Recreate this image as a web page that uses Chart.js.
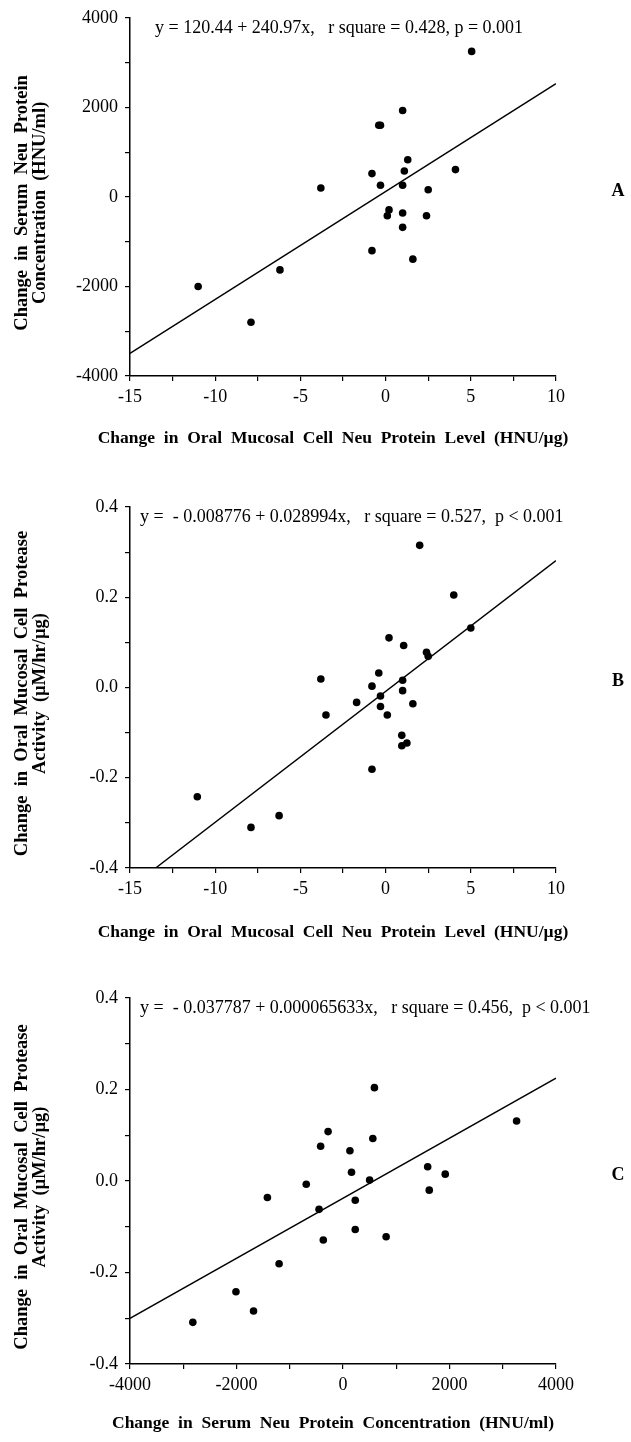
<!DOCTYPE html>
<html>
<head>
<meta charset="utf-8">
<script src="https://cdn.jsdelivr.net/npm/chart.js@4.4.1/dist/chart.umd.min.js"></script>
<style>
    body { margin: 0; background: #fff; width: 631px; height: 1442px; position: relative; overflow: hidden; }
    canvas { position: absolute; left: 0; }
</style>
</head>
<body>
<canvas id="chartA" width="631" height="470" style="top:0px;width:631px;height:470px"></canvas>
<canvas id="chartB" width="631" height="480" style="top:470px;width:631px;height:480px"></canvas>
<canvas id="chartC" width="631" height="492" style="top:950px;width:631px;height:492px"></canvas>
<script>
// Panel A: oral mucosal neu change vs serum neu change
const aX = [1.0, -0.4, -0.3, 1.3, 1.1, -0.8, 4.1, -0.3, 1.0, 2.5, -3.8, 0.2, 0.1, 1.0, 2.4, 1.0, -0.8, 1.6, -6.2, -11.0, -7.9, 5.05]
const aY = [1930, 1600, 1600, 830, 580, 520, 610, 260, 260, 160, 200, -290, -420, -360, -420, -680, -1200, -1390, -1630, -2000, -2800, 3250]
const aFit = [120.44, 240.97]

// Panel B: oral mucosal neu change vs protease activity change
const bX = [2.0, 4.0, 5.0, 0.2, 1.06, 2.4, 2.5, -3.8, -0.4, -0.8, 1.0, 1.0, -0.3, -1.7, 1.6, -0.3, -3.5, 0.1, 0.95, 0.95, 1.25, -0.8, -11.05, -6.25, -7.9]
const bY = [0.315, 0.205, 0.132, 0.110, 0.093, 0.078, 0.069, 0.019, 0.032, 0.003, 0.016, -0.007, -0.019, -0.033, -0.036, -0.042, -0.061, -0.061, -0.106, -0.129, -0.123, -0.181, -0.242, -0.284, -0.310]
const bFit = [-0.008776, 0.028994]

// Panel C: serum neu change vs protease activity change
const cX = [590, 3260, -280, -420, 130, 560, 160, 500, 1590, 1920, 1620, -690, -1420, 230, -450, 230, -370, 810, -1200, -2010, -1680, -2820]
const cY = [0.204, 0.131, 0.108, 0.076, 0.066, 0.093, 0.019, 0.002, 0.031, 0.015, -0.020, -0.007, -0.036, -0.042, -0.062, -0.106, -0.129, -0.122, -0.181, -0.242, -0.284, -0.309]
const cFit = [-0.037787, 0.000065633]

const equations = [
    "y = 120.44 + 240.97x,   r square = 0.428, p = 0.001",
    "y =  - 0.008776 + 0.028994x,   r square = 0.527,  p < 0.001",
    "y =  - 0.037787 + 0.000065633x,   r square = 0.456,  p < 0.001"
]
const panelLetters = ["A", "B", "C"]
const xTitles = [
    "Change  in  Oral  Mucosal  Cell  Neu  Protein  Level  (HNU/\u00b5g)",
    "Change  in  Oral  Mucosal  Cell  Neu  Protein  Level  (HNU/\u00b5g)",
    "Change  in  Serum  Neu  Protein  Concentration  (HNU/ml)"
]
const yTitles = [
    ["Change  in  Serum  Neu  Protein", "Concentration  (HNU/ml)"],
    ["Change  in  Oral  Mucosal  Cell  Protease", "Activity  (\u00b5M/hr/\u00b5g)"],
    ["Change  in  Oral  Mucosal  Cell  Protease", "Activity  (\u00b5M/hr/\u00b5g)"]
]
const xRanges = [[-15, 10, 2.5, 5], [-15, 10, 2.5, 5], [-4000, 4000, 1000, 2000]]
const yRanges = [[-4000, 4000, 1000, 2000], [-0.4, 0.4, 0.1, 0.2], [-0.4, 0.4, 0.1, 0.2]]

const FONT = '"Liberation Serif", "Times New Roman", serif'
Chart.defaults.color = '#000'
Chart.defaults.font.family = FONT

// equation text, axis titles and the panel letter
const annotate = {
    id: 'annotate',
    afterDraw(chart, args, opts) {
        const ctx = chart.ctx
        const area = chart.chartArea
        const midY = (area.top + area.bottom) / 2
        ctx.save()
        ctx.fillStyle = '#000'
        ctx.textBaseline = 'middle'
        ctx.textAlign = 'left'
        ctx.font = '18px ' + FONT
        ctx.fillText(opts.equation, area.left + opts.eqShift, area.top + 10)

        ctx.textAlign = 'center'
        ctx.font = 'bold 17.5px ' + FONT
        ctx.fillText(opts.xTitle, 333, opts.xTitleY)

        ctx.font = 'bold 18px ' + FONT
        ctx.fillText(opts.letter, 618, midY - 6)

        ctx.font = 'bold 18.5px ' + FONT
        opts.yTitle.forEach((line, k) => {
            ctx.save()
            ctx.translate(22 + k * 18, midY + 6)
            ctx.rotate(-Math.PI / 2)
            ctx.fillText(line, 0, 0)
            ctx.restore()
        })
        ctx.restore()
    }
}

function tickLabel(value, major, decimals) {
    const steps = Math.round(value / major * 1000) / 1000
    if (Math.abs(steps - Math.round(steps)) > 0.001) return ''
    return decimals ? value.toFixed(decimals) : String(Math.round(value))
}

function makePanel(canvasId, i, xs, ys, fit, layout) {
    const pts = xs.map((x, k) => ({ x: x, y: ys[k] }))
    const [xMin, xMax, xStep, xMajor] = xRanges[i]
    const [yMin, yMax, yStep, yMajor] = yRanges[i]
    const fitLine = [xMin, xMax].map(x => ({ x: x, y: fit[0] + fit[1] * x }))
    const yDec = yMajor < 1 ? 1 : 0

    const axisGrid = { drawOnChartArea: false, drawTicks: true, tickLength: 5, color: '#000', lineWidth: 1.2 }
    const axisBorder = { display: true, color: '#000', width: 1.5 }

    return new Chart(document.getElementById(canvasId), {
        type: 'scatter',
        data: {
            datasets: [{
                data: pts,
                order: 0,
                pointRadius: 3.8,
                pointHoverRadius: 3.8,
                backgroundColor: '#000',
                borderColor: '#000',
                borderWidth: 0
            }, {
                type: 'line',
                data: fitLine,
                order: 1,
                borderColor: '#000',
                borderWidth: 1.4,
                pointRadius: 0,
                fill: false,
                tension: 0
            }]
        },
        options: {
            responsive: false,
            animation: false,
            events: [],
            layout: { padding: { top: layout.top, right: 75, bottom: 0, left: 0 } },
            plugins: {
                legend: { display: false },
                tooltip: { enabled: false },
                annotate: {
                    equation: equations[i],
                    letter: panelLetters[i],
                    xTitle: xTitles[i],
                    yTitle: yTitles[i],
                    xTitleY: layout.xTitleY,
                    eqShift: layout.eqShift
                }
            },
            scales: {
                x: {
                    type: 'linear',
                    min: xMin,
                    max: xMax,
                    grid: axisGrid,
                    border: axisBorder,
                    afterFit: s => { s.height = layout.height - layout.bottom },
                    ticks: {
                        stepSize: xStep,
                        autoSkip: false,
                        maxRotation: 0,
                        padding: 5,
                        font: { size: 18 },
                        callback: v => tickLabel(v, xMajor, 0)
                    }
                },
                y: {
                    type: 'linear',
                    min: yMin,
                    max: yMax,
                    grid: axisGrid,
                    border: axisBorder,
                    afterFit: s => { s.width = 130 },
                    ticks: {
                        stepSize: yStep,
                        autoSkip: false,
                        padding: 7,
                        font: { size: 18 },
                        callback: v => tickLabel(v, yMajor, yDec)
                    }
                }
            }
        },
        plugins: [annotate]
    })
}

makePanel("chartA", 0, aX, aY, aFit, { top: 13, bottom: 376, height: 470, xTitleY: 438, eqShift: 25 })
makePanel("chartB", 1, bX, bY, bFit, { top: 37, bottom: 398, height: 480, xTitleY: 462, eqShift: 10 })
makePanel("chartC", 2, cX, cY, cFit, { top: 48, bottom: 414, height: 492, xTitleY: 473, eqShift: 10 })
</script>
</body>
</html>
